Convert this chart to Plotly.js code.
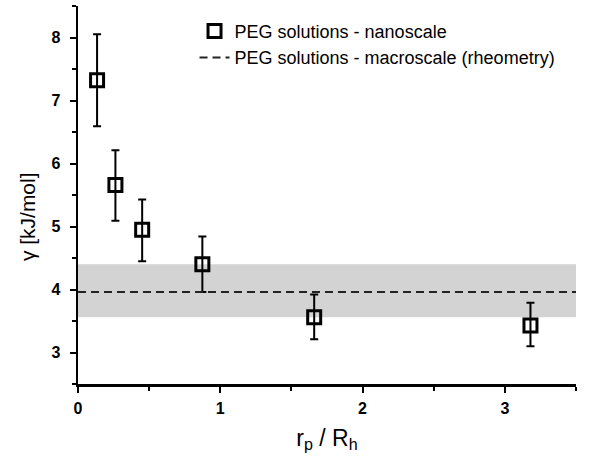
<!DOCTYPE html>
<html>
<head>
<meta charset="utf-8">
<script src="https://cdn.plot.ly/plotly-3.0.1.min.js"></script>
<style>html,body{margin:0;padding:0;background:#fff;}#chart{width:590px;height:462px;}</style>
</head>
<body>
<div id="chart"></div>
<script>
// Data
const ratio = [0.134, 0.263, 0.451, 0.874, 1.66, 3.18];
const gamma = [7.32, 5.66, 4.95, 4.40, 3.56, 3.43];
const errPlus = [0.73, 0.55, 0.48, 0.44, 0.36, 0.36];
const errMinus = [0.73, 0.57, 0.50, 0.44, 0.35, 0.33];
const macroX = [0, 3.5];
const macroValue = [3.96, 3.96];
const bandLow = [3.56, 3.56];
const bandHigh = [4.40, 4.40];
const xTicks = [0, 1, 2, 3];
const yTicks = [3, 4, 5, 6, 7, 8];
const seriesNames = ['PEG solutions - nanoscale', 'PEG solutions - macroscale (rheometry)'];

const traces = [
  {x: macroX, y: bandLow, mode: 'lines', line: {width: 0, color: 'rgba(0,0,0,0)'}, showlegend: false, hoverinfo: 'skip'},
  {x: macroX, y: bandHigh, mode: 'lines', fill: 'tonexty', fillcolor: '#d3d3d3', line: {width: 0, color: 'rgba(0,0,0,0)'}, showlegend: false, hoverinfo: 'skip'},
  {x: ratio, y: gamma, mode: 'markers', name: seriesNames[0],
   marker: {symbol: 'square-open', size: 13, color: '#000', line: {width: 3, color: '#000'}},
   error_y: {type: 'data', symmetric: false, array: errPlus, arrayminus: errMinus, color: '#000', thickness: 2, width: 4}},
  {x: macroX, y: macroValue, mode: 'lines', name: seriesNames[1], line: {color: '#222', width: 2, dash: '8px,5px'}}
];

const tickFont = {family: 'Arial, Liberation Sans, sans-serif', size: 16, color: '#000', weight: 'bold'};

const layout = {
  width: 590, height: 462,
  margin: {l: 78, r: 14, t: 6, b: 78},
  paper_bgcolor: '#fff', plot_bgcolor: 'rgba(0,0,0,0)',
  font: {family: 'Arial, Liberation Sans, sans-serif', color: '#000'},
  xaxis: {
    range: [0, 3.5], tickvals: xTicks, ticktext: xTicks.map(String),
    showgrid: false, zeroline: false, showline: true, linecolor: '#000', linewidth: 2.5,
    ticks: 'outside', ticklen: 6, tickwidth: 2, tickcolor: '#000', tickfont: tickFont,
    ticklabelstandoff: 2,
    minor: {dtick: 0.5, tick0: 0, ticks: 'outside', ticklen: 4, tickwidth: 2, tickcolor: '#000', showgrid: false},
    title: {text: 'r<sub>p</sub> / R<sub>h</sub>', font: {size: 23, family: 'Arial, Liberation Sans, sans-serif', color: '#000'}, standoff: 14}
  },
  yaxis: {
    range: [2.5, 8.5], tickvals: yTicks, ticktext: yTicks.map(String),
    showgrid: false, zeroline: false, showline: true, linecolor: '#000', linewidth: 2.5,
    ticks: 'outside', ticklen: 6, tickwidth: 2, tickcolor: '#000', tickfont: tickFont,
    ticklabelstandoff: 6,
    minor: {dtick: 0.5, tick0: 0, ticks: 'outside', ticklen: 4, tickwidth: 2, tickcolor: '#000', showgrid: false}
  },
  annotations: [{
    text: 'γ [kJ/mol]', textangle: -90, xref: 'paper', yref: 'paper',
    x: -0.1, y: 0.442, xanchor: 'center', yanchor: 'middle', showarrow: false,
    font: {size: 21, family: 'Arial, Liberation Sans, sans-serif', color: '#000'}
  }],
  legend: {
    x: 0.234, y: 0.982, xanchor: 'left', yanchor: 'top', traceorder: 'normal',
    bgcolor: 'rgba(0,0,0,0)', borderwidth: 0, itemwidth: 30,
    font: {size: 18, family: 'Arial, Liberation Sans, sans-serif', color: '#000'},
    tracegroupgap: 0
  },
  showlegend: true
};

Plotly.newPlot('chart', traces, layout, {displayModeBar: false, staticPlot: true});
</script>
</body>
</html>
